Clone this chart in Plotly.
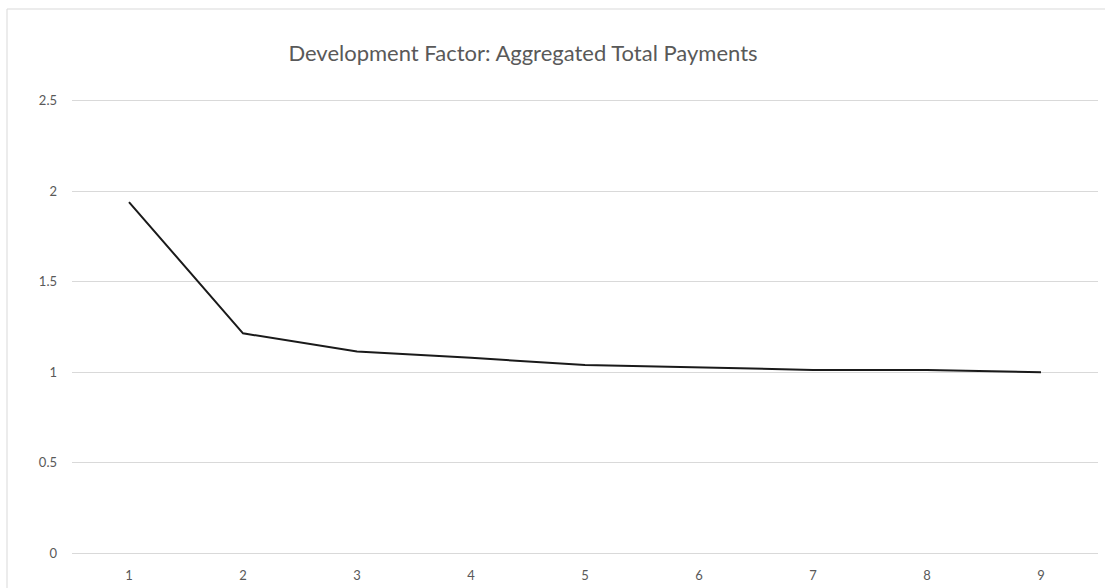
import plotly.graph_objects as go

categories = ["1", "2", "3", "4", "5", "6", "7", "8", "9"]
factors = [1.94, 1.215, 1.115, 1.08, 1.04, 1.027, 1.013, 1.013, 1.0]
y_ticks = [0, 0.5, 1, 1.5, 2, 2.5]
y_tick_labels = ["0", "0.5", "1", "1.5", "2", "2.5"]

W, H = 1105, 588
L, R, T, B = 72, 7, 97, 31
pw, ph = W - L - R, H - T - B

fig = go.Figure()
fig.add_trace(go.Scatter(
    x=list(range(len(categories))), y=factors, mode="lines",
    line=dict(color="#1a1a1a", width=2), showlegend=False, hoverinfo="skip"))

fig.update_layout(
    width=W, height=H,
    margin=dict(l=L, r=R, t=T, b=B, autoexpand=False),
    paper_bgcolor="white", plot_bgcolor="white",
    font=dict(family="Lato, Carlito, sans-serif", color="#595959", size=13),
    title=dict(text="Development Factor: Aggregated Total Payments",
               x=523 / W, xanchor="center", y=1 - 53 / H, yanchor="middle",
               font=dict(size=22, color="#595959", family="Lato, Carlito, sans-serif")),
    xaxis=dict(range=[-0.5, len(categories) - 0.5], automargin=False,
               tickvals=list(range(len(categories))), ticktext=categories,
               showgrid=False, zeroline=False, showline=False, ticks="",
               ticklabelstandoff=9, tickfont=dict(size=13, color="#595959")),
    yaxis=dict(range=[-0.02, 2.52], automargin=False,
               tickvals=y_ticks, ticktext=y_tick_labels,
               showgrid=True, gridcolor="#d9d9d9", gridwidth=1,
               zeroline=False, showline=False, ticks="",
               ticklabelstandoff=14, tickfont=dict(size=13, color="#595959")),
)
# outer chart border (light gray), extending beyond the visible window
x0 = (7 - L) / pw
y1 = 1 + (T - 9) / ph
fig.add_shape(type="rect", xref="paper", yref="paper",
              x0=x0, x1=1 + (R + 20) / pw, y0=-(B + 20) / ph, y1=y1,
              line=dict(color="#d9d9d9", width=1), fillcolor="rgba(0,0,0,0)", layer="below")

fig.write_html("out.html")
